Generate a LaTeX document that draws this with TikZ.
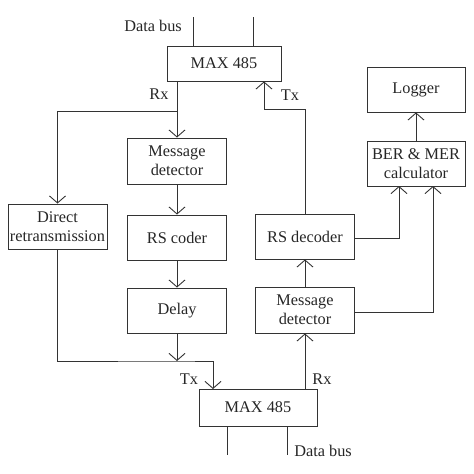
\documentclass[tikz,border=0pt]{standalone}
\usepackage{fontspec}
\setmainfont{Liberation Serif}
\usetikzlibrary{arrows.meta}
\begin{document}
\begin{tikzpicture}[x=1pt,y=-1pt,
    every node/.style={font=\fontsize{16.3}{19}\selectfont,text=black!85},
    blk/.style={draw=black!80,line width=0.9pt,align=center,inner sep=0pt,
      minimum width=99pt,minimum height=45pt},
    lbl/.style={inner sep=0pt}]
      \useasboundingbox (0,0) rectangle (474,474);
      \draw
        (224,63.5) node[blk,minimum width=114pt,minimum height=35pt] (max1){MAX 485}
        (177,161) node[blk,minimum height=46pt] (det1){Message\\detector}
        (177,237.5) node[blk] (coder){RS coder}
        (177,310.5) node[blk] (delay){Delay}
        (57.5,226.5) node[blk] (direct){Direct\\retransmission}
        (258,407.5) node[blk,minimum width=118pt,minimum height=37pt] (max2){MAX 485}
        (305,310) node[blk,minimum height=46pt] (det2){Message\\detector}
        (305,236.5) node[blk] (decoder){RS decoder}
        (416,163.5) node[blk,minimum width=98pt] (ber){BER \& MER\\calculator}
        (416,89.5) node[blk,minimum width=98pt] (logger){Logger};
      \draw
        (153,26) node[lbl] (bus1){Data bus}
        (159,94) node[lbl] (rx1){Rx}
        (290,95) node[lbl] (tx1){Tx}
        (189,379) node[lbl] (tx2){Tx}
        (322,379) node[lbl] (rx2){Rx}
        (323,451) node[lbl] (bus2){Data bus};
      \coordinate (a1) at (193,17);
      \coordinate (a2) at (253,17);
      \coordinate (b1) at (227,455);
      \coordinate (b2) at (287,455);
      \coordinate (split) at (177,111);
      \coordinate (join) at (177,361);
      \coordinate (txup) at (264,109);
      \coordinate (txin) at (213,389);
      \coordinate (berin1) at (399,186);
      \coordinate (berin2) at (433,186);
      \begin{scope}[draw=black!80,line width=0.9pt]
        \draw (a1) to (a1 |- max1.north);
        \draw (a2) to (a2 |- max1.north);
        \draw (b1 |- max2.south) to (b1);
        \draw (b2 |- max2.south) to (b2);
      \end{scope}
      \begin{scope}[draw=black!80,line width=0.9pt,
          -{Straight Barb[length=7pt,width=16pt,line width=0.9pt]}]
        \draw (max1.south -| det1) to (det1.north);
        \draw (split) -| (direct.north);
        \draw (det1) to (coder);
        \draw (coder) to (delay);
        \draw (delay.south) to (join);
        \draw (direct.south) |- (join) -| (txin);
        \draw (decoder.north) |- (txup) -- (txup |- max1.south);
        \draw (max2.north -| det2) to (det2.south);
        \draw (det2) to (decoder);
        \draw (decoder.east |- 0,238) -| (berin1);
        \draw (det2.east |- 0,312) -| (berin2);
        \draw (ber) to (logger);
      \end{scope}
    \end{tikzpicture}
\end{document}
